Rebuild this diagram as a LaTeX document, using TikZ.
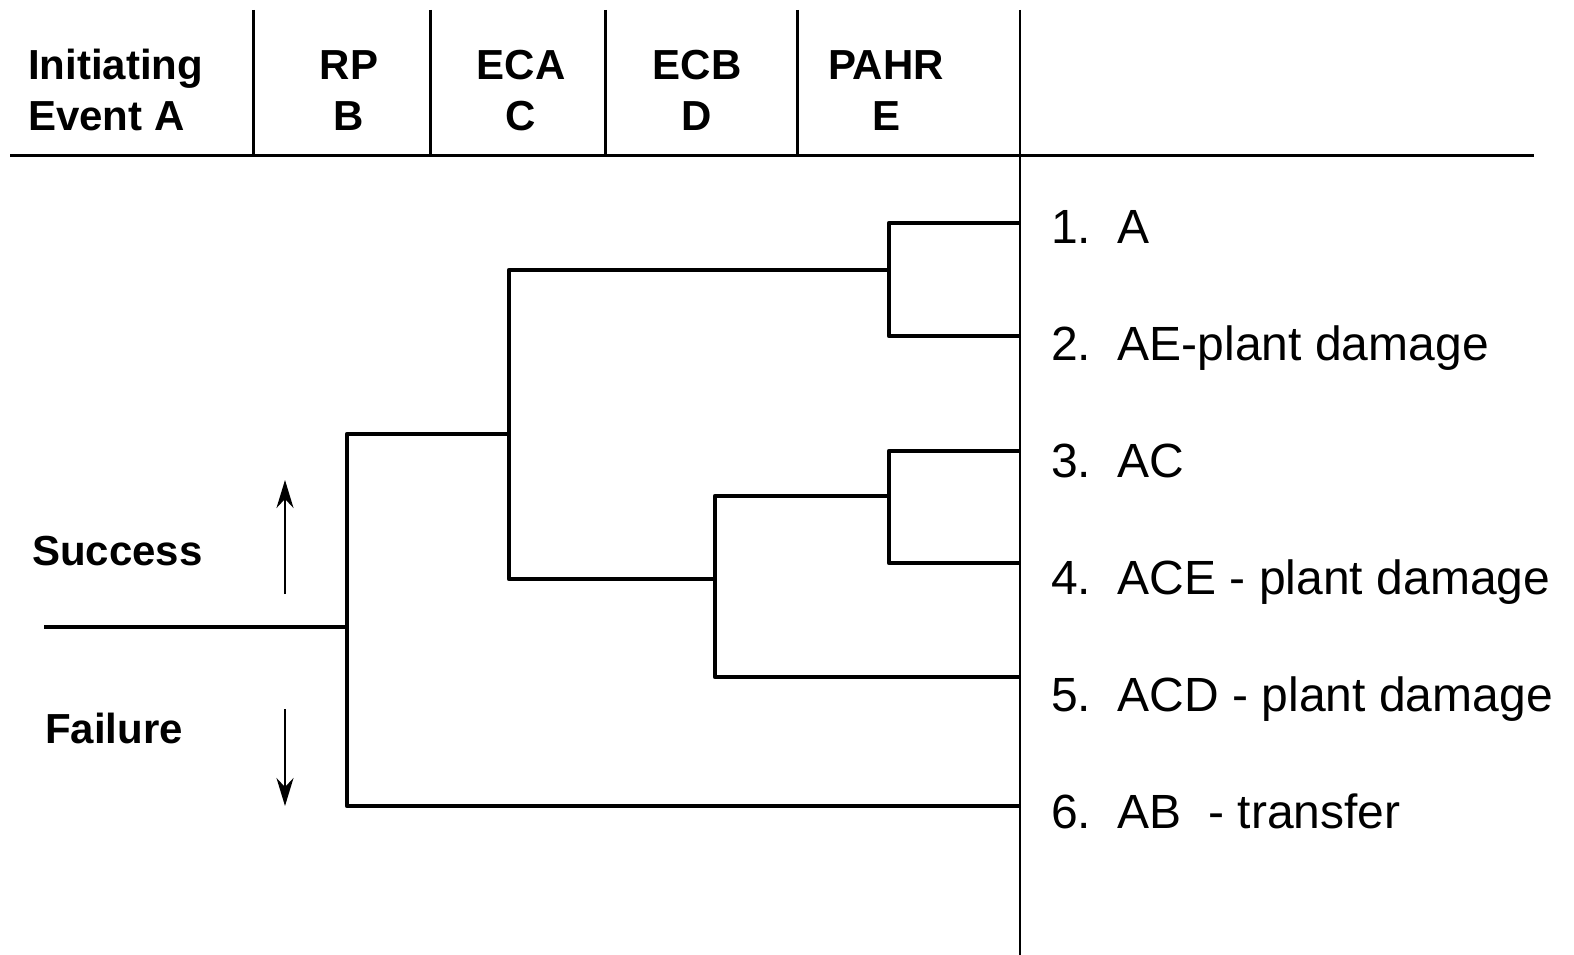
\documentclass[tikz,border=0pt]{standalone}
\usepackage{fontspec}
\setmainfont{Liberation Sans}
\usetikzlibrary{arrows.meta}
\begin{document}
\begin{tikzpicture}[x=1pt,y=-1pt,
  hdr/.style={font=\fontsize{42}{51}\selectfont\bfseries, inner sep=0pt, align=center},
  lbl/.style={font=\fontsize{42}{51}\selectfont\bfseries, inner sep=0pt, anchor=base west},
  outc/.style={font=\fontsize{48}{58}\selectfont, inner sep=0pt, anchor=base west},
  grid/.style={line width=3pt},
  branch/.style={line width=4.4pt, line join=round},
  dirarrow/.style={line width=2.2pt, -{Stealth[length=28pt,width=17pt,inset=9pt]}}]
\useasboundingbox (0,0) rectangle (1574,955);
% header grid
\coordinate (h0) at (10,156);
\coordinate (h1) at (1534,156);
\draw[grid] (h0) -- (h1);
\foreach \x/\n in {253/a,430/b,605/c,797/d}{
  \coordinate (t\n) at (\x,10);
  \coordinate (b\n) at (\x,156);
  \draw[grid] (t\n) -- (b\n);
}
\coordinate (te) at (1020,10);
\coordinate (be) at (1020,955);
\draw[line width=2.4pt] (te) -- (be);
% header texts
\node[hdr, align=left, anchor=base west] (hA) at (28,131) {Initiating\\Event A};
\node[hdr, anchor=base] (hB) at (349,131) {RP\\B};
\node[hdr, anchor=base] (hC) at (521,131) {ECA\\C};
\node[hdr, anchor=base] (hD) at (697,131) {ECB\\D};
\node[hdr, anchor=base] (hE) at (886,131) {PAHR\\E};
% tree coordinates
\coordinate (s0) at (44,627);
\coordinate (jB) at (347,627);
\coordinate (jBt) at (347,434);
\coordinate (jBb) at (347,806);
\coordinate (jC) at (509,434);
\coordinate (jCt) at (509,270);
\coordinate (jCb) at (509,579);
\coordinate (jEu) at (889,270);
\coordinate (jEut) at (889,223);
\coordinate (jEub) at (889,336);
\coordinate (jD) at (715,579);
\coordinate (jDt) at (715,496);
\coordinate (jDb) at (715,677);
\coordinate (jEl) at (889,496);
\coordinate (jElt) at (889,451);
\coordinate (jElb) at (889,563);
\coordinate (e1) at (1020,223);
\coordinate (e2) at (1020,336);
\coordinate (e3) at (1020,451);
\coordinate (e4) at (1020,563);
\coordinate (e5) at (1020,677);
\coordinate (e6) at (1020,806);
% branches
\draw[branch] (s0) -- (jB);
\draw[branch] (e6) -- (jBb) -- (jBt) -- (jC);
\draw[branch] (jEu) -- (jCt) -- (jCb) -- (jD);
\draw[branch] (e1) -- (jEut) -- (jEub) -- (e2);
\draw[branch] (jEl) -- (jDt) -- (jDb) -- (e5);
\draw[branch] (e3) -- (jElt) -- (jElb) -- (e4);
% success / failure
\coordinate (us) at (285,594);
\coordinate (ue) at (285,480);
\coordinate (ds) at (285,709);
\coordinate (de) at (285,806);
\draw[dirarrow] (us) -- (ue);
\draw[dirarrow] (ds) -- (de);
\node[lbl] (succ) at (32,565) {Success};
\node[lbl] (fail) at (45,743) {Failure};
% outcomes
\node[outc] (o1) at (1051,243) {1.\ \ A};
\node[outc] (o2) at (1051,360) {2.\ \ AE-plant damage};
\node[outc] (o3) at (1051,477) {3.\ \ AC};
\node[outc] (o4) at (1051,594) {4.\ \ ACE - plant damage};
\node[outc] (o5) at (1051,711) {5.\ \ ACD - plant damage};
\node[outc] (o6) at (1051,828) {6.\ \ AB\ \ - transfer};
\end{tikzpicture}
\end{document}
